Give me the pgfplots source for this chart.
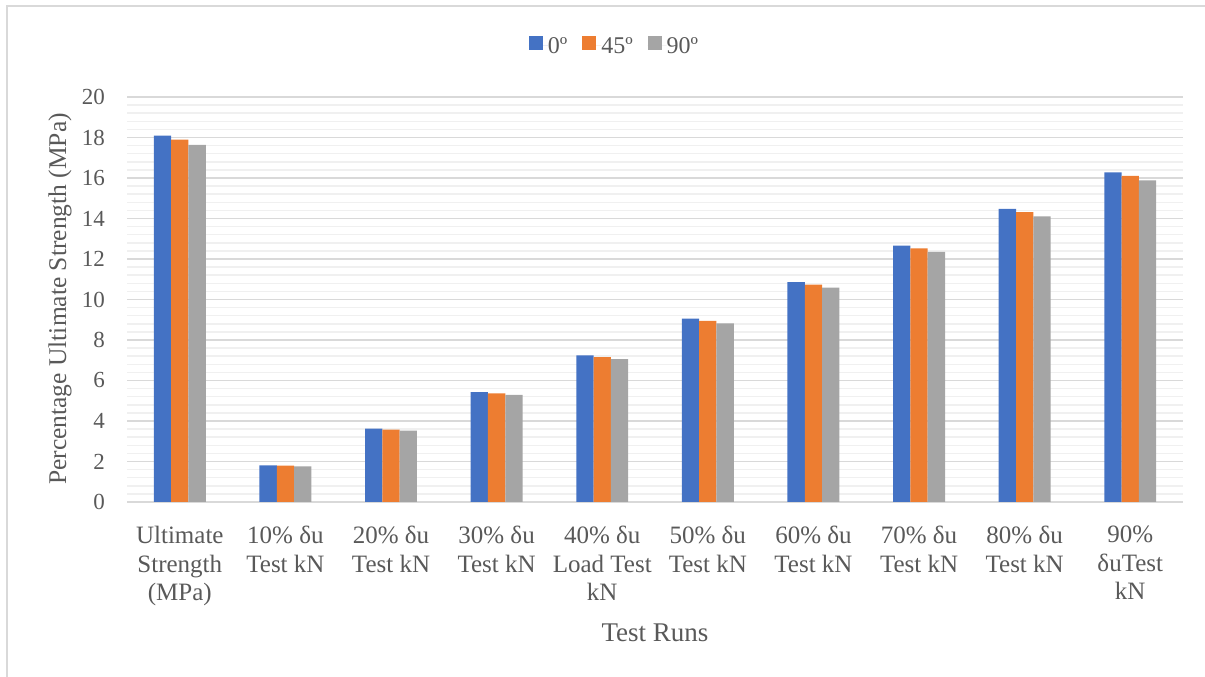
\documentclass[border=0pt]{standalone}
\usepackage{fontspec}
\setmainfont{Liberation Serif}
\usepackage{pgfplots}
\pgfplotsset{compat=1.18}

\definecolor{cBlue}{HTML}{4472C4}
\definecolor{cOrange}{HTML}{ED7D31}
\definecolor{cGray}{HTML}{A5A5A5}
\definecolor{txt}{HTML}{595959}
\definecolor{gridMajor}{HTML}{D9D9D9}
\definecolor{gridMinor}{HTML}{F0F0F0}

\begin{document}
\begin{tikzpicture}
\useasboundingbox (0pt,0pt) rectangle (1205pt,677pt);
\begin{axis}[
  at={(127pt,175pt)}, anchor=south west,
  scale only axis, width=1056pt, height=405pt,
  ybar=0pt, bar width=17.3pt,
  xmin=-0.5, xmax=9.5, ymin=0, ymax=20,
  xtick={0,...,9},
  xticklabels={{Ultimate\\Strength\\(MPa)},{10\% δu\\Test kN},{20\% δu\\Test kN},{30\% δu\\Test kN},{40\% δu\\Load Test\\kN},{50\% δu\\Test kN},{60\% δu\\Test kN},{70\% δu\\Test kN},{80\% δu\\Test kN},{90\%\\δuTest\\kN}},
  ytick={0,2,...,20},
  minor y tick num=4,
  ymajorgrids, yminorgrids,
  major grid style={gridMajor, line width=1.5pt},
  minor grid style={gridMinor, line width=1.5pt},
  axis y line*=left,
  y axis line style={draw=none},
  axis x line*=bottom,
  x axis line style={gridMajor, line width=1.8pt, -},
  major tick length=0pt, minor tick length=0pt,
  tick style={draw=none},
  /pgf/number format/assume math mode=true,
  xticklabel style={align=center, anchor=north, inner sep=0pt, yshift=-24pt,
    font=\fontsize{25}{28.5}\selectfont, text=txt},
  yticklabel style={anchor=east, inner sep=0pt, xshift=-22pt,
    font=\fontsize{23}{26}\selectfont, text=txt},
  legend style={at={(rel axis cs:0.4607,1.128)}, anchor=center, draw=none,
    fill=none, font=\fontsize{24}{26}\selectfont, text=txt,
    legend columns=3, inner sep=0pt,
    nodes={inner sep=0pt}},
  legend image code/.code={%
    \fill[#1] (0pt,-4pt) rectangle (14pt,10pt);
    \path (0pt,0pt) -- (19pt,0pt);},
  legend cell align=left,
]
\addplot[draw=none, fill=cBlue] coordinates {
  (0,18.09) (1,1.81) (2,3.62) (3,5.43) (4,7.24)
  (5,9.05) (6,10.86) (7,12.66) (8,14.47) (9,16.28)};
\addplot[draw=none, fill=cOrange] coordinates {
  (0,17.89) (1,1.79) (2,3.58) (3,5.37) (4,7.16)
  (5,8.95) (6,10.73) (7,12.52) (8,14.31) (9,16.10)};
\addplot[draw=none, fill=cGray] coordinates {
  (0,17.64) (1,1.76) (2,3.53) (3,5.29) (4,7.06)
  (5,8.82) (6,10.58) (7,12.35) (8,14.11) (9,15.88)};
\legend{0º\hspace*{15pt},45º\hspace*{15pt},90º}
\end{axis}
% axis titles
\node[rotate=90, anchor=base, text=txt, font=\fontsize{25.5}{28}\selectfont]
  at (66pt,378pt) {Percentage Ultimate Strength (MPa)};
\node[anchor=base, text=txt, font=\fontsize{27}{30}\selectfont]
  at (655pt,35pt) {Test Runs};
% chart frame
\draw[gridMajor, line width=2pt] (7pt,0pt) -- (7pt,670.5pt) -- (1205pt,670.5pt);
\end{tikzpicture}
\end{document}
